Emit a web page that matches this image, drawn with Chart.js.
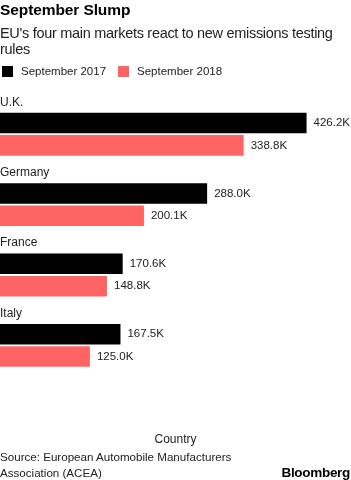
<!DOCTYPE html>
<html>
<head>
<meta charset="utf-8">
<script src="https://cdn.jsdelivr.net/npm/chart.js@4/dist/chart.umd.min.js"></script>
<style>
  html, body { margin: 0; padding: 0; background: #fff; }
  body { width: 351px; height: 480px; position: relative; overflow: hidden; font-family: "Liberation Sans", Arial, sans-serif; color: #000; }
  #wrap { position: absolute; left: 0; top: 0; width: 351px; height: 480px; }
  #title { position: absolute; left: 0; top: 0; font-weight: bold; font-size: 15.5px; line-height: 20px; color: #000; letter-spacing: -0.1px; }
  #subtitle { position: absolute; left: 0; top: 25px; font-size: 14.5px; line-height: 16px; color: #222; width: 351px; letter-spacing: -0.3px; }
  #legend { position: absolute; left: 2px; top: 64px; font-size: 11.5px; line-height: 14px; color: #222; display: flex; }
  .li { display: flex; align-items: center; margin-right: 12px; }
  .sw { width: 11px; height: 11px; margin-right: 8px; }
  #source { position: absolute; left: 0; top: 449px; font-size: 11.6px; line-height: 16px; color: #222; }
  #logo { position: absolute; right: 1px; top: 465px; font-size: 13.5px; line-height: 16px; font-weight: bold; color: #000; letter-spacing: -0.3px; }
</style>
</head>
<body>
<div id="wrap"><canvas id="c" width="351" height="480"></canvas></div>
<div id="title">September Slump</div>
<div id="subtitle">EU's four main markets react to new emissions testing<br>rules</div>
<div id="legend"></div>
<div id="source">Source: European Automobile Manufacturers<br>Association (ACEA)</div>
<div id="logo">Bloomberg</div>
<script>
const categories = ["U.K.", "Germany", "France", "Italy"];
const seriesNames = ["September 2017", "September 2018"];
const sept2017 = [426.2, 288.0, 170.6, 167.5];
const sept2018 = [338.8, 200.1, 148.8, 125.0];
const seriesColors = ["#000000", "#ff6464"];
const axisTitle = "Country";
const xMax = 488;

const labelPlugin = {
  id: "barLabels",
  afterDatasetsDraw(chart) {
    const ctx = chart.ctx;
    const yScale = chart.scales.y;
    ctx.save();
    ctx.textBaseline = "middle";
    ctx.fillStyle = "#222";
    ctx.font = "12px 'Liberation Sans', Arial, sans-serif";
    ctx.textAlign = "left";
    categories.forEach((c, i) => {
      const y = yScale.getPixelForValue(i);
      ctx.fillText(c, 0, y - 32);
    });
    ctx.font = "11.5px 'Liberation Sans', Arial, sans-serif";
    chart.data.datasets.forEach((ds, di) => {
      const meta = chart.getDatasetMeta(di);
      meta.data.forEach((bar, i) => {
        ctx.fillText(ds.data[i].toFixed(1) + "K", bar.x + 7, bar.y);
      });
    });
    ctx.restore();
  }
};

const chart = new Chart(document.getElementById("c"), {
  type: "bar",
  data: {
    labels: categories,
    datasets: [
      { label: seriesNames[0], data: sept2017, backgroundColor: seriesColors[0] },
      { label: seriesNames[1], data: sept2018, backgroundColor: seriesColors[1] }
    ]
  },
  options: {
    indexAxis: "y",
    responsive: false,
    animation: false,
    layout: { padding: { top: 99, left: 0, right: 0, bottom: 33 } },
    datasets: { bar: { categoryPercentage: 0.635, barPercentage: 0.92 } },
    plugins: { legend: { display: false }, tooltip: { enabled: false } },
    scales: {
      x: {
        min: 0, max: xMax,
        grid: { display: false },
        border: { display: false },
        ticks: { display: false },
        title: { display: true, text: axisTitle, color: "#222", font: { size: 12, family: "'Liberation Sans', Arial, sans-serif" }, padding: { top: 44, bottom: 0 } }
      },
      y: {
        display: false
      }
    }
  },
  plugins: [labelPlugin]
});

const lg = document.getElementById("legend");
chart.data.datasets.forEach(ds => {
  const item = document.createElement("div");
  item.className = "li";
  const sw = document.createElement("div");
  sw.className = "sw";
  sw.style.background = ds.backgroundColor;
  const t = document.createElement("span");
  t.textContent = ds.label;
  item.appendChild(sw); item.appendChild(t);
  lg.appendChild(item);
});
</script>
</body>
</html>
